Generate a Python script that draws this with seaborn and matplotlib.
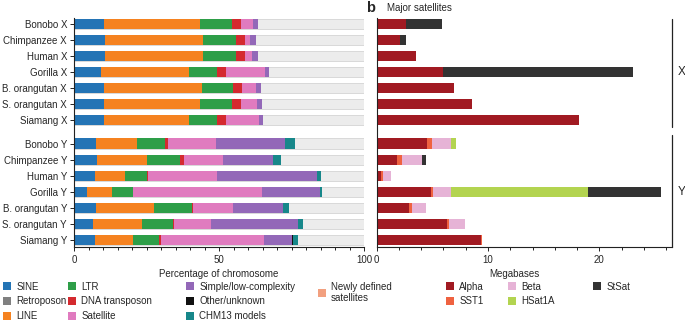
import matplotlib
matplotlib.use("Agg")
import matplotlib.pyplot as plt
import matplotlib.transforms as mtransforms
from matplotlib.patches import Patch
import numpy as np
import pandas as pd
import seaborn as sns

sns.set_theme(style="white")
plt.rcParams["font.family"] = ["Liberation Sans", "DejaVu Sans"]

# ---------------- data ----------------
species = ["Bonobo", "Chimpanzee", "Human", "Gorilla", "B. orangutan", "S. orangutan", "Siamang"]
rows = [f"{s} X" for s in species] + [f"{s} Y" for s in species]

# panel a: percentage of chromosome (X rows then Y rows)
sine = [10.4, 10.7, 10.7, 9.3, 10.2, 10.2, 10.2, 7.5, 8.0, 7.4, 4.5, 7.6, 6.7, 7.4]
retroposon = [0, 0, 0, 0, 0, 0, 0, 0, 0, 0, 0, 0, 0, 0]
line = [33.0, 33.7, 33.9, 30.2, 33.9, 33.2, 29.3, 14.3, 17.3, 10.2, 8.6, 20.0, 16.9, 13.1]
ltr = [11.2, 11.3, 11.1, 9.9, 10.7, 11.0, 9.8, 9.5, 11.4, 7.6, 7.1, 13.0, 10.6, 8.7]
dna_transposon = [3.1, 3.3, 3.3, 2.9, 3.2, 3.1, 3.0, 1.0, 1.2, 0.4, 0.3, 0.4, 0.3, 0.9]
satellite = [3.9, 1.7, 2.3, 13.5, 4.8, 5.5, 11.4, 16.7, 13.6, 23.6, 44.3, 13.9, 12.6, 35.4]
simple = [1.7, 2.1, 2.3, 1.4, 1.7, 1.9, 1.6, 23.8, 17.2, 34.5, 20.0, 17.0, 30.0, 9.7]
other = [0, 0, 0, 0, 0, 0, 0, 0, 0, 0, 0, 0, 0, 0.3]
chm13 = [0, 0, 0, 0, 0, 0, 0, 3.3, 2.6, 1.5, 0.7, 2.1, 1.8, 1.7]
newly_defined = [0, 0, 0, 0, 0, 0, 0, 0, 0, 0, 0, 0, 0, 0]

# panel b: major satellites (Mb)
alpha = [2.6, 2.1, 3.5, 6.0, 6.9, 8.6, 18.2, 4.55, 1.8, 0.36, 4.85, 2.9, 6.3, 9.4]
sst1 = [0, 0, 0, 0, 0, 0, 0, 0.4, 0.5, 0.24, 0.25, 0.25, 0.2, 0.1]
beta = [0, 0, 0, 0, 0, 0, 0, 1.75, 1.8, 0.65, 1.55, 1.25, 1.4, 0]
hsat1a = [0, 0, 0, 0, 0, 0, 0, 0.45, 0, 0, 12.35, 0, 0, 0]
stsat = [3.24, 0.5, 0, 17.0, 0, 0, 0, 0, 0.3, 0, 6.5, 0, 0, 0]

# ---------------- styles ----------------
C = {
    "SINE": "#2474b5", "Retroposon": "#808080", "LINE": "#f58220", "LTR": "#2e9e48",
    "DNA transposon": "#d42a2f", "Satellite": "#e07bbf", "Simple/low-complexity": "#9368b8",
    "Other/unknown": "#111111", "CHM13 models": "#17878a", "Newly defined\nsatellites": "#f2a07f",
    "Alpha": "#a11a22", "SST1": "#ef6240", "Beta": "#e6b3d6", "HSat1A": "#b3d450", "StSat": "#333333",
}
REST = "#ececec"

pos = np.r_[np.arange(7), np.arange(7) + 7.45]

fig = plt.figure(figsize=(6.85, 3.23), dpi=100)
axA = fig.add_axes([74 / 685, 1 - 247 / 323, (364 - 74) / 685, (247 - 18.4) / 323])
axB = fig.add_axes([376.7 / 685, 1 - 247 / 323, (671.7 - 376.7) / 685, (247 - 18.4) / 323])


def stacked(ax, layers, total=None):
    cums = np.cumsum(np.array([v for _, v in layers], dtype=float), axis=0)
    items = list(zip([n for n, _ in layers], cums))
    if total is not None:
        df = pd.DataFrame({"pos": pos, "val": [total] * len(pos)})
        sns.barplot(data=df, x="val", y="pos", orient="h", native_scale=True,
                    color=REST, edgecolor="#d4d4d4", linewidth=0.6, width=0.64,
                    saturation=1, ax=ax)
    for name, cum in reversed(items):
        df = pd.DataFrame({"pos": pos, "val": cum})
        sns.barplot(data=df, x="val", y="pos", orient="h", native_scale=True,
                    color=C[name], linewidth=0, width=0.64, saturation=1, ax=ax)


stacked(axA, [("SINE", sine), ("Retroposon", retroposon), ("LINE", line), ("LTR", ltr),
              ("DNA transposon", dna_transposon), ("Satellite", satellite),
              ("Simple/low-complexity", simple), ("Other/unknown", other),
              ("CHM13 models", chm13), ("Newly defined\nsatellites", newly_defined)], total=100)
stacked(axB, [("Alpha", alpha), ("SST1", sst1), ("Beta", beta), ("HSat1A", hsat1a),
              ("StSat", stsat)])

for ax in (axA, axB):
    ax.set_ylim(13.89, -0.35)
    ax.set_ylabel("")
    for s in ("top", "right"):
        ax.spines[s].set_visible(False)
    for s in ("left", "bottom"):
        ax.spines[s].set_color("#222222")
        ax.spines[s].set_linewidth(0.8)
    ax.tick_params(axis="x", which="both", direction="out", length=3, width=0.7,
                   color="#222222", labelsize=7, pad=2.5, bottom=True)
    ax.tick_params(axis="x", which="minor", length=2)

axA.set_xlim(0, 100)
axA.set_xticks([0, 50, 100])
axA.set_xticks(np.arange(0, 101, 5), minor=True)
axA.set_yticks(pos)
axA.set_yticklabels(rows)
axA.tick_params(axis="y", left=True, length=3, width=0.7, color="#222222",
                labelsize=7, pad=2)
axA.set_xlabel("Percentage of chromosome", fontsize=7)
axB.set_xlim(0, 26.5)
axB.set_xticks([0, 10, 20])
axB.set_xticks(np.arange(0, 26.1, 2), minor=True)
axB.set_yticks([])
axB.set_xlabel("Megabases", fontsize=7)
axB.xaxis.set_label_coords(12.4 / 26.5, -0.095)
axA.xaxis.set_label_coords(0.5, -0.095)

# brackets
tr = mtransforms.blended_transform_factory(axB.transAxes, axB.transData)
axB.plot([1.0, 1.0], [-0.3, 6.4], color="#222222", lw=0.9, transform=tr, clip_on=False)
axB.plot([1.0, 1.0], [6.9, 13.89], color="#222222", lw=0.9, transform=tr, clip_on=False)
axB.text(1.022, 3.0, "X", transform=tr, fontsize=8.5, va="center", ha="left")
axB.text(1.022, 10.45, "Y", transform=tr, fontsize=8.5, va="center", ha="left")

fig.text(366 / 685, 1 - 8 / 323, "b", fontsize=10.5, fontweight="bold", va="center", ha="left")
fig.text(387 / 685, 1 - 8 / 323, "Major satellites", fontsize=7, va="center", ha="left")

# legends
cols = [
    (3, ["SINE", "Retroposon", "LINE"]),
    (68, ["LTR", "DNA transposon", "Satellite"]),
    (186, ["Simple/low-complexity", "Other/unknown", "CHM13 models"]),
    (318, ["Newly defined\nsatellites"]),
    (446, ["Alpha", "SST1"]),
    (508, ["Beta", "HSat1A"]),
    (593, ["StSat"]),
]
for x, names in cols:
    handles = [Patch(facecolor=C[n], edgecolor="none") for n in names]
    fig.legend(handles, names, loc="upper left", bbox_to_anchor=(x / 685, 1 - 281.5 / 323),
               frameon=False, fontsize=7, handlelength=0.85, handleheight=0.85,
               handletextpad=0.5, labelspacing=0.5, borderpad=0, borderaxespad=0)

fig.savefig("out.png", dpi=100)
